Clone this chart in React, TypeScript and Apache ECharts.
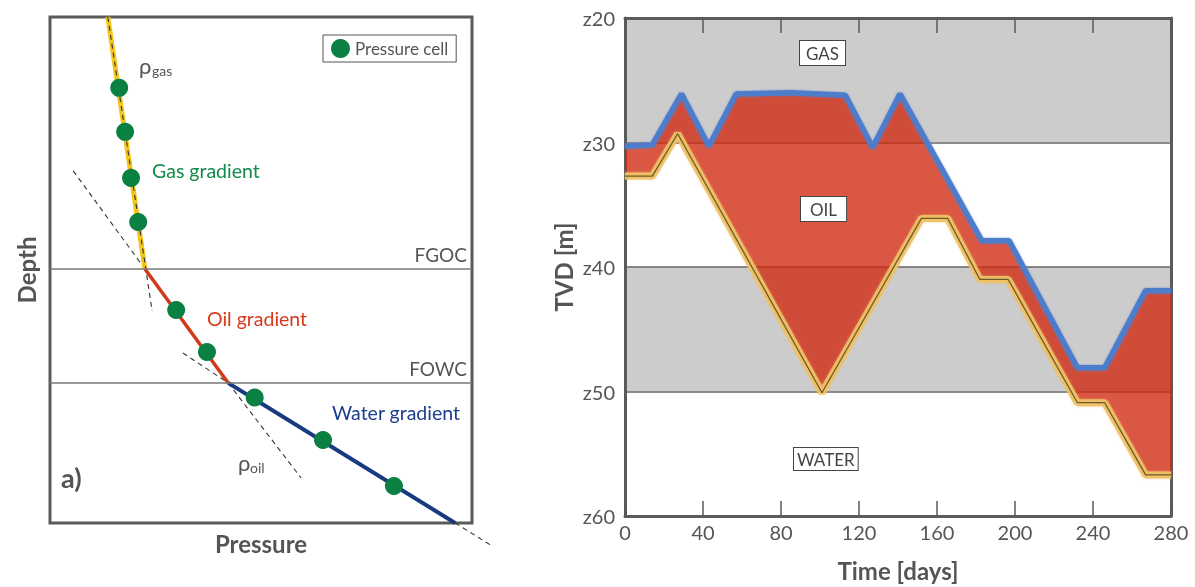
import React, { useEffect, useRef } from 'react';
import * as echarts from 'echarts';

// ---------- Panel a: schematic pressure vs depth (relative units 0..100) ----------
const gasGradient = [[13.7, 0], [22.5, 49.8]];
const oilGradient = [[22.5, 49.8], [42.2, 72.3]];
const waterGradient = [[42.2, 72.3], [96.0, 100]];
const gasExtension = [[13.7, 0], [24.2, 58.1]];
const oilExtensionUp = [[5.5, 30.4], [22.5, 49.8]];
const oilExtensionDown = [[42.2, 72.3], [59.5, 91.1]];
const waterExtensionUp = [[31.5, 66.4], [42.2, 72.3]];
const waterExtensionDown = [[96.0, 100], [104.7, 104.5]];
const pressureCells = [
  [16.4, 14.0], [17.8, 22.7], [19.2, 31.8], [20.9, 40.5],
  [29.9, 57.9], [37.2, 66.2],
  [48.5, 75.2], [64.7, 83.6], [81.5, 92.7],
];
const contactNames = ['FGOC', 'FOWC'];
const contactDepths = [49.8, 72.3];

// ---------- Panel b: contact depth vs time ----------
const gocTime = [0, 14, 29, 43, 57, 85, 113, 127, 141, 183, 197, 232, 246, 267, 280];
const gocDepth = [30.3, 30.2, 26.1, 30.3, 26.1, 26.0, 26.2, 30.4, 26.1, 37.9, 37.9, 48.1, 48.1, 41.9, 41.9];
const owcTime = [0, 14, 27, 101, 152, 165.5, 182, 196.5, 232, 246, 267, 280];
const owcDepth = [32.7, 32.7, 29.3, 50.1, 36.1, 36.1, 41.0, 41.0, 50.9, 50.9, 56.7, 56.7];
const timeTicks = [0, 40, 80, 120, 160, 200, 240, 280];
const depthTicks = [20, 30, 40, 50, 60];
const zoneLabels = ['GAS', 'OIL', 'WATER'];

const FONT = 'Lato, "DejaVu Sans", sans-serif';
const GRAY = '#555555';
const AXIS = '#5a5a5a';

const zip = (xs: number[], ys: number[]) => xs.map((x, i) => [x, ys[i]]);

export default function App() {
  const ref = useRef<HTMLDivElement>(null);
  useEffect(() => {
    if (!ref.current) return;
    const chart = echarts.init(ref.current, undefined, { renderer: 'svg' });
    const dashed = (data: number[][]) => ({
      type: 'line', xAxisIndex: 0, yAxisIndex: 0, data, symbol: 'none', clip: false, silent: true, z: 3,
      lineStyle: { color: '#333', width: 1.1, type: [5, 4] },
    });
    const option: any = {
      animation: false,
      textStyle: { fontFamily: FONT },
      grid: [
        { left: 50, top: 17, width: 422, height: 506, show: true, borderColor: AXIS, borderWidth: 3, backgroundColor: 'transparent' },
        { left: 625, top: 18, width: 546, height: 501 },
      ],
      legend: {
        data: ['Pressure cell'], left: 323, top: 35, orient: 'horizontal',
        borderColor: GRAY, borderWidth: 1, borderRadius: 0, padding: [4, 8, 4, 8],
        itemWidth: 19, itemHeight: 19, icon: 'circle',
        textStyle: { fontSize: 17, color: GRAY, fontFamily: FONT },
      },
      xAxis: [
        {
          gridIndex: 0, type: 'value', min: 0, max: 100,
          axisLine: { show: false }, axisTick: { show: false }, axisLabel: { show: false }, splitLine: { show: false },
          name: 'Pressure', nameLocation: 'middle', nameGap: 8,
          nameTextStyle: { fontSize: 24, fontWeight: 'bold', color: GRAY, fontFamily: FONT, verticalAlign: 'top' },
        },
        {
          gridIndex: 1, type: 'value', min: timeTicks[0], max: timeTicks[timeTicks.length - 1], interval: 40,
          axisLine: { onZero: false, lineStyle: { color: AXIS, width: 3 } },
          axisTick: { inside: true, length: 15, lineStyle: { color: AXIS, width: 1.5 } },
          axisLabel: { fontSize: 20, color: GRAY, margin: 6, fontFamily: FONT },
          splitLine: { show: false },
          name: 'Time [days]', nameLocation: 'middle', nameGap: 42,
          nameTextStyle: { fontSize: 24, fontWeight: 'bold', color: GRAY, fontFamily: FONT },
        },
        {
          gridIndex: 1, type: 'value', position: 'top', min: timeTicks[0], max: timeTicks[timeTicks.length - 1], interval: 40,
          axisLine: { onZero: false, lineStyle: { color: AXIS, width: 3 } },
          axisTick: { inside: true, length: 15, lineStyle: { color: AXIS, width: 1.5 } },
          axisLabel: { show: false }, splitLine: { show: false },
        },
      ],
      yAxis: [
        {
          gridIndex: 0, type: 'value', min: 0, max: 100, inverse: true,
          axisLine: { show: false }, axisTick: { show: false }, axisLabel: { show: false }, splitLine: { show: false },
          name: 'Depth', nameLocation: 'middle', nameGap: 12, nameRotate: 90,
          nameTextStyle: { fontSize: 24, fontWeight: 'bold', color: GRAY, fontFamily: FONT },
        },
        {
          gridIndex: 1, type: 'value', min: depthTicks[0], max: depthTicks[depthTicks.length - 1], interval: 10, inverse: true,
          axisLine: { show: true, onZero: false, lineStyle: { color: AXIS, width: 3 } },
          axisTick: { show: false },
          axisLabel: { fontSize: 20, color: GRAY, margin: 10, fontFamily: FONT, formatter: (v: number) => 'z' + v },
          splitLine: { show: true, lineStyle: { color: '#666', width: 1.5 } },
          splitArea: { show: true, areaStyle: { color: ['#cccccc', '#ffffff'] } },
          name: 'TVD [m]', nameLocation: 'middle', nameGap: 50, nameRotate: 90,
          nameTextStyle: { fontSize: 24, fontWeight: 'bold', color: GRAY, fontFamily: FONT },
        },
        {
          gridIndex: 1, type: 'value', position: 'right', min: 20, max: 60, inverse: true,
          axisLine: { show: true, onZero: false, lineStyle: { color: AXIS, width: 3 } },
          axisTick: { show: false }, axisLabel: { show: false }, splitLine: { show: false },
        },
      ],
      series: [
        // panel a
        dashed(oilExtensionUp),
        dashed(oilExtensionDown),
        dashed(waterExtensionUp),
        {
          type: 'line', xAxisIndex: 0, yAxisIndex: 0, data: gasGradient, symbol: 'none', z: 3, silent: true,
          lineStyle: { color: '#f3c51a', width: 5 },
          markLine: {
            silent: true, symbol: 'none',
            lineStyle: { color: '#777', width: 1.5, type: 'solid' },
            label: { position: 'insideEndTop', formatter: '{b}', color: GRAY, fontSize: 19, fontFamily: FONT },
            data: contactDepths.map((d, i) => ({ yAxis: d, name: contactNames[i] })),
          },
        },
        dashed(gasExtension),
        {
          type: 'line', xAxisIndex: 0, yAxisIndex: 0, data: oilGradient, symbol: 'none', z: 3, silent: true,
          lineStyle: { color: '#d2381c', width: 3.5 },
        },
        {
          type: 'line', xAxisIndex: 0, yAxisIndex: 0, data: waterGradient, symbol: 'none', z: 3, silent: true,
          lineStyle: { color: '#173a80', width: 4 },
        },
        {
          name: 'Pressure cell', type: 'scatter', xAxisIndex: 0, yAxisIndex: 0, data: pressureCells,
          symbol: 'circle', symbolSize: 18, z: 5, silent: true,
          itemStyle: { color: '#0a8043', opacity: 1 },
        },
        // panel b
        {
          type: 'custom', xAxisIndex: 1, yAxisIndex: 1, data: [[0, 20]], z: 2, silent: true,
          renderItem: (_params: any, api: any) => {
            const top = gocTime.map((t, i) => api.coord([t, gocDepth[i]]));
            const bottom = owcTime.map((t, i) => api.coord([t, owcDepth[i]])).reverse();
            return {
              type: 'polygon',
              shape: { points: [...top, ...bottom] },
              style: { fill: 'rgba(208,40,16,0.78)' },
            };
          },
        },
        {
          type: 'line', xAxisIndex: 1, yAxisIndex: 1, data: zip(owcTime, owcDepth), symbol: 'none', z: 3, silent: true,
          lineStyle: { color: '#efc066', width: 7, opacity: 0.95, shadowColor: 'rgba(240,190,90,0.7)', shadowBlur: 2 },
        },
        {
          type: 'line', xAxisIndex: 1, yAxisIndex: 1, data: zip(owcTime, owcDepth), symbol: 'none', z: 4, silent: true,
          lineStyle: { color: '#6b5a2a', width: 1.3 },
        },
        {
          type: 'line', xAxisIndex: 1, yAxisIndex: 1, data: zip(gocTime, gocDepth), symbol: 'none', z: 4, silent: true,
          lineStyle: { color: '#4e7cca', width: 5.5, shadowColor: 'rgba(90,130,210,0.7)', shadowBlur: 2 },
        },
      ],
      graphic: [
        { type: 'text', left: 139, top: 54, silent: true, style: { text: 'ρ', fontSize: 22, fill: GRAY, fontFamily: FONT } },
        { type: 'text', left: 152, top: 63, silent: true, style: { text: 'gas', fontSize: 14, fill: GRAY, fontFamily: FONT } },
        { type: 'text', left: 152, top: 160, silent: true, style: { text: 'Gas gradient', fontSize: 19.5, fill: '#128a48', fontFamily: FONT } },
        { type: 'text', left: 207, top: 308, silent: true, style: { text: 'Oil gradient', fontSize: 19.5, fill: '#d8381c', fontFamily: FONT } },
        { type: 'text', left: 332, top: 402, silent: true, style: { text: 'Water gradient', fontSize: 19.5, fill: '#1b3d8b', fontFamily: FONT } },
        { type: 'text', left: 238, top: 451, silent: true, style: { text: 'ρ', fontSize: 22, fill: GRAY, fontFamily: FONT } },
        { type: 'text', left: 250, top: 460, silent: true, style: { text: 'oil', fontSize: 14, fill: GRAY, fontFamily: FONT } },
        { type: 'text', left: 61, top: 464, silent: true, style: { text: 'a)', fontSize: 27, fontWeight: 'bold', fill: GRAY, fontFamily: FONT } },
        { type: 'text', left: 639, top: 462, silent: true, style: { text: 'b)', fontSize: 27, fontWeight: 'bold', fill: GRAY, fontFamily: FONT } },
        {
          type: 'text', left: 799, top: 40, z: 10, silent: true,
          style: { text: zoneLabels[0], fontSize: 17, fill: '#444', fontFamily: FONT, backgroundColor: '#fff', borderColor: '#444', borderWidth: 1, padding: [4, 6, 3, 6] },
        },
        {
          type: 'text', left: 800, top: 196, z: 10, silent: true,
          style: { text: zoneLabels[1], fontSize: 17, fill: '#444', fontFamily: FONT, backgroundColor: '#fff', borderColor: '#444', borderWidth: 1, padding: [4, 9, 3, 9] },
        },
        {
          type: 'text', left: 793, top: 447, z: 10, silent: true,
          style: { text: zoneLabels[2], fontSize: 17, fill: '#444', fontFamily: FONT, backgroundColor: '#fff', borderColor: '#444', borderWidth: 1, padding: [3, 3, 2, 3] },
        },
      ],
    };
    chart.setOption(option);
    // Water gradient extension beyond the frame, positioned through the chart's own scales
    const p0 = chart.convertToPixel({ gridIndex: 0 } as any, waterExtensionDown[0]) as number[];
    const p1 = chart.convertToPixel({ gridIndex: 0 } as any, waterExtensionDown[1]) as number[];
    chart.setOption({
      graphic: [
        {
          id: 'water-extension', type: 'line', silent: true, z: 3,
          shape: { x1: p0[0], y1: p0[1], x2: p1[0], y2: p1[1] },
          style: { stroke: '#333', lineWidth: 1.1, lineDash: [5, 4] },
        },
      ],
    });
    return () => chart.dispose();
  }, []);
  return <div ref={ref} style={{ position: 'fixed', left: 0, top: 0, width: 1195, height: 587 }} />;
}
